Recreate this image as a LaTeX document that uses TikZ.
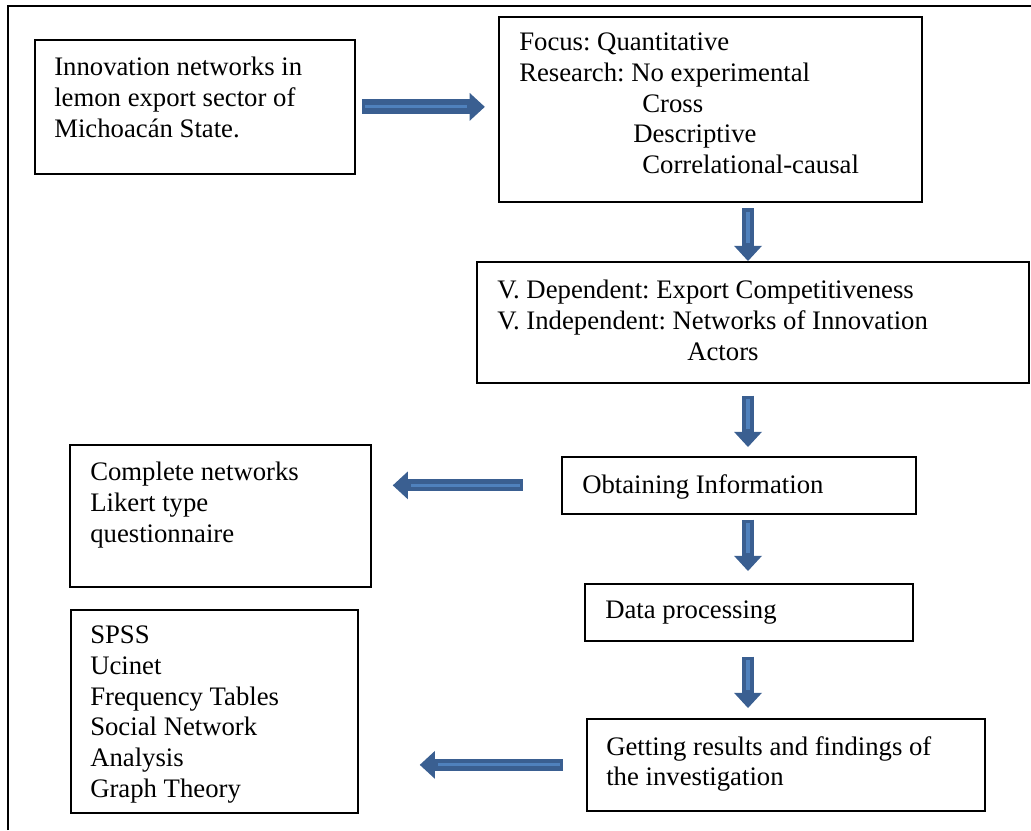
\documentclass[tikz,border=0pt]{standalone}
\usepackage{fontspec}
\setmainfont{Liberation Serif}
\frenchspacing
\usetikzlibrary{arrows.meta}
\definecolor{arrowdark}{RGB}{58,95,145}
\definecolor{arrowlight}{RGB}{79,129,189}
\tikzset{
  box/.style={draw, line width=1.2pt, rectangle, inner sep=0pt, anchor=north west},
  txt/.style={font=\fontsize{19}{21.8}\selectfont, align=left, inner sep=0pt, anchor=north west},
  fatarrow/.style 2 args={draw=arrowdark, line width=0.3cm,
    -{Triangle[length=0.38cm,width=0.7cm,line width=0pt]},
    shorten <=#1, shorten >=#2,
    postaction={draw=arrowlight, line width=0.08cm, -, shorten <=#1+0.08cm, shorten >=#2+0.45cm}}
}
\begin{document}
\begin{tikzpicture}[x=0.025cm, y=-0.025cm]
  \useasboundingbox (0,0) rectangle (1031,830);
  \draw[line width=2pt] (8,830) -- (8,6) -- (1031,6);

  % boxes
  \node[box, minimum width=8cm, minimum height=3.35cm] (innov) at (34,39) {};
  \node[box, minimum width=10.575cm, minimum height=4.625cm] (approach) at (498,16) {};
  \node[box, minimum width=13.8cm, minimum height=3.025cm] (variables) at (476,261) {};
  \node[box, minimum width=8.85cm, minimum height=1.425cm] (obtain) at (561,456) {};
  \node[box, minimum width=7.525cm, minimum height=3.55cm] (instrum) at (69,444) {};
  \node[box, minimum width=8.2cm, minimum height=1.425cm] (process) at (584,583) {};
  \node[box, minimum width=9.95cm, minimum height=2.3cm] (results) at (586,718) {};
  \node[box, minimum width=7.175cm, minimum height=5.075cm] (tools) at (70,609) {};

  % texts
  \node[txt] at ([shift={(20,18)}]innov.north west)
    {Innovation networks in\\lemon export sector of\\Michoac\'an State.};
  \node[txt] at ([shift={(21,17)}]approach.north west)
    {Focus: Quantitative\\Research: No experimental\\
     \hspace*{3.075cm}Cross\\\hspace*{2.85cm}Descriptive\\
     \hspace*{3.075cm}Correlational-causal};
  \node[txt] at ([shift={(21,19)}]variables.north west)
    {V. Dependent: Export Competitiveness\\V. Independent: Networks of Innovation\\
     \hspace*{4.75cm}Actors};
  \node[txt] at ([shift={(21,18)}]obtain.north west) {Obtaining Information};
  \node[txt] at ([shift={(21,18)}]instrum.north west)
    {Complete networks\\Likert type\\questionnaire};
  \node[txt] at ([shift={(21,18)}]process.north west) {Data processing};
  \node[txt] at ([shift={(20,18)}]results.north west)
    {Getting results and findings of\\the investigation};
  \node[txt] at ([shift={(20,17)}]tools.north west)
    {SPSS\\Ucinet\\Frequency Tables\\Social Network\\Analysis\\Graph Theory};

  % arrows
  \coordinate (spine) at (748,0);
  \draw[fatarrow={0.15cm}{0.33cm}, line width=0.38cm] (innov.east) -- (innov.east -| approach.west);
  \draw[fatarrow={0.14cm}{0cm}] (spine |- approach.south) -- (spine |- variables.north);
  \draw[fatarrow={0.3cm}{0.225cm}] (spine |- variables.south) -- (spine |- obtain.north);
  \draw[fatarrow={0.95cm}{0.525cm}] (obtain.west) -- (obtain.west -| instrum.east);
  \draw[fatarrow={0.125cm}{0.3cm}] (spine |- obtain.south) -- (spine |- process.north);
  \draw[fatarrow={0.375cm}{0.25cm}] (spine |- process.south) -- (spine |- results.north);
  \draw[fatarrow={0.575cm}{1.525cm}] (results.west) -- (results.west -| tools.east);
\end{tikzpicture}
\end{document}
